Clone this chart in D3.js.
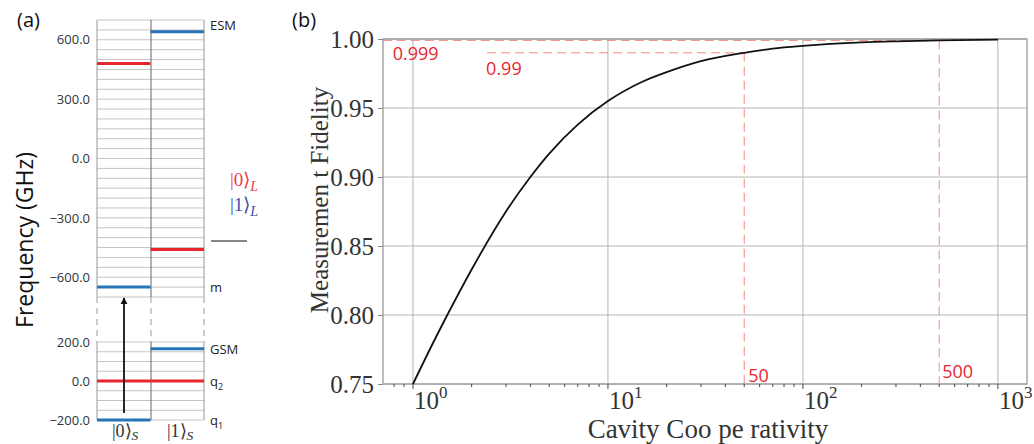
<!DOCTYPE html>
<html>
<head>
<meta charset="utf-8">
<script src="https://cdn.jsdelivr.net/npm/d3@7"></script>
<style>
  body { margin: 0; background: #fff; }
  svg { display: block; }
</style>
</head>
<body>
<div id="container"></div>
<script>
const width = 1034;
const height = 444;

// ---- panel (a): energy levels ----
const upperTicks = [600, 300, 0, -300, -600];
const lowerTicks = [200, 0, -200];
const levelState = [0, 1, 1, 0, 1, 0, 1, 0];
const levelFreq = [480, 640, -460, -650, 165, 0, 0, -200];
const levelLogical = [0, 1, 0, 1, 1, 0, 0, 1];
const levelSection = ["upper", "upper", "upper", "upper", "lower", "lower", "lower", "lower"];
const tagNames = ["ESM", "m", "GSM", "q", "q"];
const tagSub = ["", "", "", "2", "1"];
const tagFreq = [640, -650, 165, 0, -200];
const tagSection = ["upper", "upper", "lower", "lower", "lower"];

// ---- panel (b): fidelity curve ----
const coop = [1, 1.2, 1.5, 2, 3, 4, 5, 7, 10, 15, 20, 30, 50, 70, 100, 200, 300, 500, 1000];
const fidelity = [0.750, 0.773, 0.800, 0.833, 0.875, 0.900, 0.917, 0.938, 0.955, 0.969, 0.976,
  0.984, 0.990, 0.993, 0.995, 0.9975, 0.9983, 0.999, 0.9995];
const yTicks = [0.75, 0.80, 0.85, 0.90, 0.95, 1.00];
const xDecades = [1, 10, 100, 1000];
const markF = [0.999, 0.99];
const markC = [500, 50];
const markFrom = [0.70, 2.4];
const markFLabel = ["0.999", "0.99"];
const markCLabel = ["500", "50"];

const red = "#e8262d";
const blue = "#2574b8";

const svg = d3.select("#container")
  .append("svg")
  .attr("width", width)
  .attr("height", height);

// panel (a)
const col = d3.scaleBand().domain([0, 1]).range([97, 204]);
const yU = d3.scaleLinear().domain([-700, 700]).range([297, 20]);
const yL = d3.scaleLinear().domain([-200, 200]).range([420, 342]);
const ySec = s => (s === "upper" ? yU : yL);

const a = svg.append("g");

// grid lines every 50 GHz
[[yU, d3.range(-700, 701, 50)], [yL, d3.range(-200, 201, 50)]].forEach(([sc, vals]) => {
  a.append("g").selectAll("line")
    .data(vals)
    .join("line")
    .attr("x1", 97).attr("x2", 204)
    .attr("y1", d => sc(d)).attr("y2", d => sc(d))
    .attr("stroke", "#c4c4c4")
    .attr("stroke-width", 1);
});

// column borders
[97, 151, 204].forEach((xv, i) => {
  const c = i === 1 ? "#666" : "#999";
  a.append("line").attr("x1", xv).attr("x2", xv).attr("y1", yU(700)).attr("y2", yU(-700))
    .attr("stroke", c).attr("stroke-width", 1);
  a.append("line").attr("x1", xv).attr("x2", xv).attr("y1", yL(200)).attr("y2", yL(-200))
    .attr("stroke", c).attr("stroke-width", 1);
  a.append("line").attr("x1", xv).attr("x2", xv).attr("y1", yU(-700)).attr("y2", yL(200))
    .attr("stroke", "#999").attr("stroke-width", 1).attr("stroke-dasharray", "6,5");
});

// tick labels
const tickFmt = d3.format(".1f");
const axU = a.append("g").attr("transform", "translate(93,0)")
  .call(d3.axisLeft(yU).tickValues(upperTicks).tickSize(0).tickFormat(tickFmt));
const axL = a.append("g").attr("transform", "translate(93,0)")
  .call(d3.axisLeft(yL).tickValues(lowerTicks).tickSize(0).tickFormat(tickFmt));
[axU, axL].forEach(g => {
  g.select(".domain").remove();
  g.selectAll("text").attr("font-family", "Open Sans").attr("font-size", 13).attr("fill", "#333");
});

// levels
a.append("g").selectAll("line")
  .data(levelFreq.map((f, i) => ({ f, s: levelState[i], l: levelLogical[i], sec: levelSection[i] })))
  .join("line")
  .attr("x1", d => col(d.s))
  .attr("x2", d => col(d.s) + col.bandwidth())
  .attr("y1", d => ySec(d.sec)(d.f))
  .attr("y2", d => ySec(d.sec)(d.f))
  .attr("stroke", d => (d.l === 0 ? red : blue))
  .attr("stroke-width", 3);

// level names
tagNames.forEach((n, i) => {
  const t = a.append("text")
    .attr("x", 210)
    .attr("y", ySec(tagSection[i])(tagFreq[i]) + (i === 0 ? -2 : 5))
    .attr("font-family", "Open Sans").attr("font-size", 13).attr("fill", "#222")
    .text(n);
  if (tagSub[i]) t.append("tspan").attr("dy", 4).attr("font-size", 9).text(tagSub[i]);
});

// arrow
svg.append("defs").append("marker")
  .attr("id", "arr").attr("viewBox", "0 0 10 10").attr("refX", 9).attr("refY", 5)
  .attr("markerWidth", 4).attr("markerHeight", 4).attr("orient", "auto")
  .append("path").attr("d", "M0,0L10,5L0,10z").attr("fill", "#111");
a.append("line")
  .attr("x1", 124).attr("x2", 124)
  .attr("y1", yL(-200) - 7).attr("y2", yU(-700) + 1)
  .attr("stroke", "#111").attr("stroke-width", 1.8)
  .attr("marker-end", "url(#arr)");

// legend
const ket = (g, x, y, n, sub, color, size, subDy) => {
  const t = g.append("text").attr("x", x).attr("y", y)
    .attr("font-family", "Liberation Serif").attr("font-size", size).attr("fill", color);
  t.append("tspan").text("|" + n + "⟩");
  t.append("tspan").attr("dy", subDy).attr("font-style", "italic").attr("font-size", size * 0.75).text(sub);
};
ket(a, 230, 186, "0", "L", "#e8404a", 19, 5);
ket(a, 230, 211, "1", "L", "#4050a8", 19, 5);
a.append("line").attr("x1", 211).attr("x2", 247).attr("y1", 241).attr("y2", 241)
  .attr("stroke", "#111").attr("stroke-width", 1.2);

ket(a, 112, 437, "0", "S", "#333", 18, 3);
ket(a, 167, 437, "1", "S", "#333", 18, 3);

a.append("text")
  .attr("transform", "translate(33,240) rotate(-90)")
  .attr("text-anchor", "middle")
  .attr("font-family", "Open Sans").attr("font-size", 23).attr("fill", "#111")
  .text("Frequency (GHz)");

a.append("text").attr("x", 17).attr("y", 27)
  .attr("font-family", "Open Sans").attr("font-size", 20).attr("fill", "#111").text("(a)");

// panel (b)
const x = d3.scaleLog().domain([0.702, 1410]).range([383, 1027]);
const y = d3.scaleLinear().domain([0.75, 1.0]).range([384, 39]);
const b = svg.append("g");

b.append("text").attr("x", 292).attr("y", 27)
  .attr("font-family", "Open Sans").attr("font-size", 20).attr("fill", "#111").text("(b)");

// grid
b.append("g").selectAll("line").data(xDecades).join("line")
  .attr("x1", d => x(d)).attr("x2", d => x(d)).attr("y1", 39).attr("y2", 384)
  .attr("stroke", "#b4b4b4").attr("stroke-width", 1);
b.append("g").selectAll("line").data(yTicks).join("line")
  .attr("x1", 383).attr("x2", 1027).attr("y1", d => y(d)).attr("y2", d => y(d))
  .attr("stroke", "#b4b4b4").attr("stroke-width", 1);

// dashed markers
markF.forEach((f, i) => {
  b.append("line")
    .attr("x1", x(markFrom[i])).attr("x2", x(markC[i]))
    .attr("y1", y(f)).attr("y2", y(f))
    .attr("stroke", "#f08a7e").attr("stroke-width", 1).attr("stroke-dasharray", "9,5");
  b.append("line")
    .attr("x1", x(markC[i])).attr("x2", x(markC[i]))
    .attr("y1", y(f)).attr("y2", 384)
    .attr("stroke", "#f08a7e").attr("stroke-width", 1).attr("stroke-dasharray", "9,5");
});

// frame
b.append("rect").attr("x", 383).attr("y", 39).attr("width", 644).attr("height", 345)
  .attr("fill", "none").attr("stroke", "#9a9a9a").attr("stroke-width", 1.3);

// curve
const line = d3.line()
  .x((d, i) => x(coop[i]))
  .y(d => y(d))
  .curve(d3.curveMonotoneX);
b.append("path").attr("d", line(fidelity))
  .attr("fill", "none").attr("stroke", "#111").attr("stroke-width", 1.8);

// y axis
const yAx = b.append("g").attr("transform", "translate(383,0)")
  .call(d3.axisLeft(y).tickValues(yTicks).tickSize(5).tickPadding(4).tickFormat(d3.format(".2f")));
yAx.select(".domain").remove();
yAx.selectAll("line").attr("stroke", "#888");
yAx.selectAll("text").attr("font-family", "Liberation Serif").attr("font-size", 25).attr("fill", "#333")
  .attr("dy", "0.33em");

// x axis: minor ticks then decade labels
const minor = x.ticks().filter(d => !xDecades.includes(d));
const xAx = b.append("g").attr("transform", "translate(0,384)");
xAx.selectAll("line.minor").data(minor).join("line")
  .attr("x1", d => x(d)).attr("x2", d => x(d)).attr("y1", 0).attr("y2", 3)
  .attr("stroke", "#444").attr("stroke-width", 1);
xAx.selectAll("line.major").data(xDecades).join("line")
  .attr("x1", d => x(d)).attr("x2", d => x(d)).attr("y1", 0).attr("y2", 5)
  .attr("stroke", "#444").attr("stroke-width", 1);
xDecades.forEach(d => {
  const t = xAx.append("text").attr("x", x(d) + 1).attr("y", 25)
    .attr("font-family", "Liberation Serif").attr("font-size", 25).attr("fill", "#333")
    .text("10");
  t.append("tspan").attr("dy", -11).attr("font-size", 17).text(Math.round(Math.log10(d)));
});

// marker labels
const lab = (xv, yv, s) => b.append("text").attr("x", xv).attr("y", yv)
  .attr("font-family", "Open Sans").attr("font-size", 18).attr("fill", red).text(s);
lab(x(markFrom[0]) + 10, 60, markFLabel[0]);
lab(x(markFrom[1]) - 1, 75, markFLabel[1]);
lab(x(markC[1]) + 4, 382, markCLabel[1]);
lab(x(markC[0]) + 3, 378, markCLabel[0]);

// axis titles
b.append("text")
  .attr("x", 708).attr("y", 438)
  .attr("text-anchor", "middle")
  .attr("font-family", "Liberation Serif").attr("font-size", 27).attr("fill", "#333")
  .text("Cavity Coo pe rativity");
b.append("text")
  .attr("transform", "translate(328,200) rotate(-90)")
  .attr("text-anchor", "middle")
  .attr("font-family", "Liberation Serif").attr("font-size", 25).attr("fill", "#333")
  .text("Measuremen t Fidelity");
</script>
</body>
</html>
